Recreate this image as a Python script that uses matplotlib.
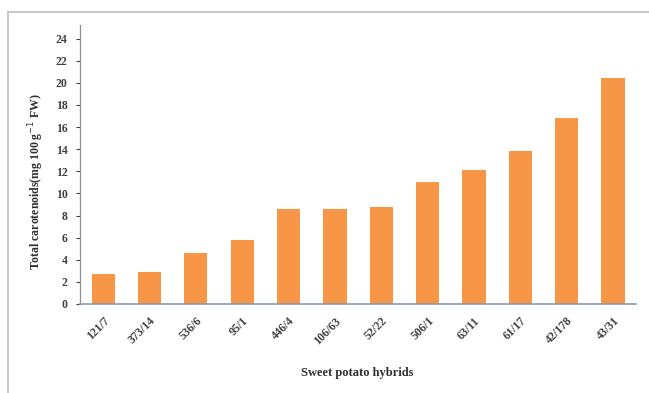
import numpy as np
import matplotlib.pyplot as plt
from matplotlib.patches import Rectangle

hybrids = ['121/7', '373/14', '536/6', '95/1', '446/4', '106/63',
           '52/22', '506/1', '63/11', '61/17', '42/178', '43/31']
carotenoids = [2.7, 2.9, 4.6, 5.8, 8.6, 8.6, 8.8, 11.0, 12.1, 13.8, 16.8, 20.4]

plt.rcParams['font.family'] = 'Liberation Serif'

fig = plt.figure(figsize=(6.49, 3.93), dpi=100)
ax = fig.add_axes([0.1233, 0.2265, 0.857, 0.7089])

# outer chart border (only left and top edges fall inside the image)
fig.add_artist(Rectangle((8 / 649, -0.1), 1.2, 1 - 12 / 393 + 0.1,
                         transform=fig.transFigure, fill=False,
                         edgecolor='#c8c8c8', linewidth=1.5, clip_on=False))

x = np.arange(len(hybrids))
ax.bar(x, carotenoids, width=0.5, color='#F79646', edgecolor='none')

ax.set_xlim(-0.5, len(hybrids) - 0.5)
ax.set_ylim(0, 25.2)
ax.set_yticks(np.arange(0, 25, 2))
ax.set_xticks(x)
ax.set_xticklabels(hybrids, rotation=45, ha='right', rotation_mode='anchor',
                   fontsize=8.5, fontweight='bold', color='#404040')
ax.tick_params(axis='y', labelsize=8.5, colors='#404040', length=3,
               width=0.8, pad=6)
ax.tick_params(axis='x', length=0, pad=8)
for lab in ax.get_yticklabels():
    lab.set_fontweight('bold')

for s in ['top', 'right']:
    ax.spines[s].set_visible(False)
ax.spines['left'].set_color('#909090')
ax.spines['bottom'].set_color('#8a9bb0')
ax.spines['left'].set_linewidth(0.9)
ax.spines['bottom'].set_linewidth(1.2)

ax.set_ylabel('Total carotenoids(mg 100 g$^{-1}$ FW)', fontsize=8.5,
              fontweight='bold', color='#303030')
ax.yaxis.set_label_coords(-0.062, 0.44)
ax.set_xlabel('Sweet potato hybrids', fontsize=9, fontweight='bold',
              color='#303030')
ax.xaxis.set_label_coords(0.498, -0.225)

fig.savefig('out.png', dpi=100)
